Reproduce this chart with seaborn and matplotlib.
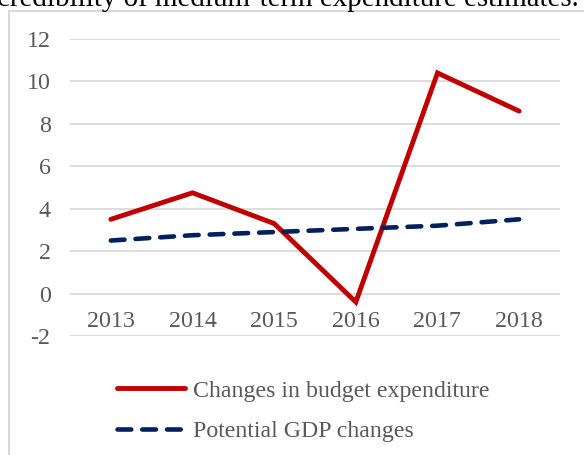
import matplotlib
matplotlib.use("Agg")
import matplotlib.pyplot as plt
from matplotlib.patches import Rectangle
import pandas as pd
import seaborn as sns

years = ["2013", "2014", "2015", "2016", "2017", "2018"]
budget_expenditure = [3.5, 4.75, 3.3, -0.4, 10.4, 8.6]
potential_gdp = [2.5, 2.75, 2.9, 3.05, 3.2, 3.5]
series_names = ["Changes in budget expenditure", "Potential GDP changes"]
y_ticks = [-2, 0, 2, 4, 6, 8, 10, 12]
title_text = "credibility of medium-term expenditure estimates."

sns.set_theme(style="white")
plt.rcParams["font.family"] = ["Liberation Serif", "DejaVu Serif"]

W, H = 584, 455
fig = plt.figure(figsize=(W / 100, H / 100), dpi=100)
ax = fig.add_axes([70 / W, 1 - 336 / H, 490 / W, 297 / H])

df = pd.DataFrame({
    "year": years * 2,
    "value": budget_expenditure + potential_gdp,
    "series": [series_names[0]] * len(years) + [series_names[1]] * len(years),
})

palette = {series_names[0]: "#C00000", series_names[1]: "#002060"}
sns.lineplot(data=df, x="year", y="value", hue="series", palette=palette,
             sort=False, ax=ax, legend=False)

red_line, blue_line = ax.lines[0], ax.lines[1]
red_line.set_linewidth(3.5)
red_line.set_solid_capstyle("round")
red_line.set_solid_joinstyle("miter")
blue_line.set_linewidth(3.3)
blue_line.set_dashes((3.0, 2.4))
blue_line.set_dash_capstyle("round")

ax.set_xlim(-0.5, len(years) - 0.5)
ax.set_ylim(-2, 12)
ax.set_yticks(y_ticks)
ax.set_yticklabels([str(t) for t in y_ticks])
ax.set_xticks([])
ax.set_xlabel("")
ax.set_ylabel("")
for y in y_ticks:
    ax.axhline(y, color="#d9d9d9", lw=1.3, zorder=0)
for s in ax.spines.values():
    s.set_visible(False)
ax.tick_params(axis="y", length=0, pad=14, labelsize=17.3, labelcolor="#595959")

# category labels sit between the 0 and -2 gridlines
for i, yr in enumerate(years):
    ax.text(i, -1.3, yr, ha="center", va="center", fontsize=17.3, color="#595959")

# legend below the plot area
handles = [
    plt.Line2D([], [], color="#C00000", lw=3.5, solid_capstyle="round"),
    plt.Line2D([], [], color="#002060", lw=3.3, dashes=(3.0, 2.4), dash_capstyle="round"),
]
fig.legend(handles, series_names, loc="upper left",
           bbox_to_anchor=(117 / W, 1 - 380 / H), frameon=False,
           fontsize=17.2, handlelength=2.85, handletextpad=0.35,
           labelspacing=0.78, labelcolor="#595959", borderaxespad=0, borderpad=0)

# chart frame
fig.patches.append(Rectangle((8.5 / W, -0.1), 1.2, 1 - 11 / H + 0.1,
                             transform=fig.transFigure, fill=False,
                             edgecolor="#d9d9d9", lw=1.5))

# heading line running across the top edge of the figure
title = fig.text(-3 / W, 1 - 6 / H, title_text,
                 ha="left", va="baseline", fontsize=20, color="black")
renderer = fig.canvas.get_renderer()
span = title.get_window_extent(renderer).width
title.set_fontsize(20 * 585 / span)

fig.savefig("out.png", dpi=100)
